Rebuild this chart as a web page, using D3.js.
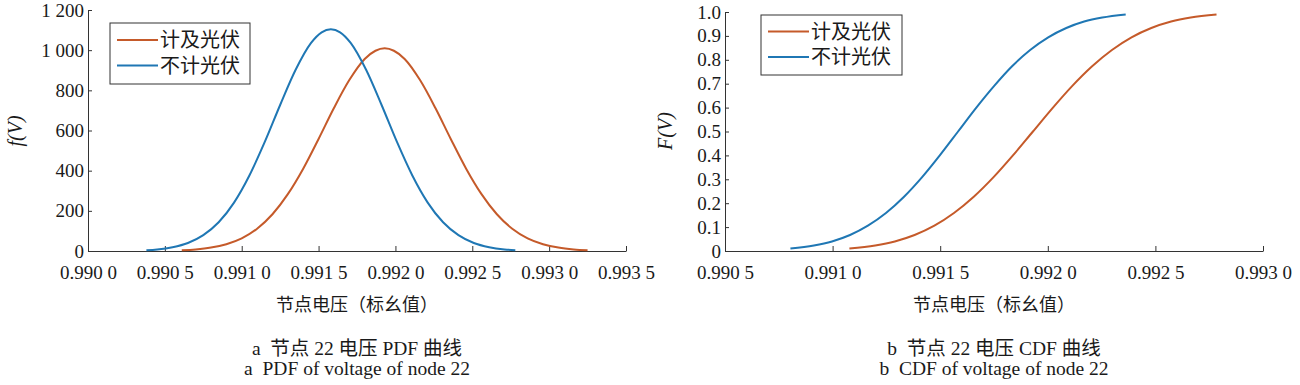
<!DOCTYPE html>
<html>
<head>
<meta charset="utf-8">
<script src="https://cdn.jsdelivr.net/npm/d3@7"></script>
<style>
  body { margin: 0; background: #fff; }
  .axis path, .axis line { stroke: #333; stroke-width: 1px; }
  .curve { fill: none; stroke-width: 2px; }
</style>
</head>
<body>
<div id="chart"></div>
<script>
var FONT = '"Liberation Serif", "Times New Roman", Tinos, "DejaVu Serif", "Noto Sans CJK SC", serif';

// series names and colours
var seriesNames = ['计及光伏', '不计光伏'];
var seriesColors = ['#c55a2a', '#1f77b4'];

// PDF, with PV (orange)
var pdfVoltPV = [0.99061, 0.99070, 0.99080, 0.99090, 0.99100, 0.99110, 0.99120, 0.99130, 0.99140, 0.99150,
  0.99160, 0.99170, 0.99180, 0.99187, 0.99193, 0.99199, 0.99206, 0.99216, 0.99226, 0.99236,
  0.99246, 0.99256, 0.99266, 0.99276, 0.99286, 0.99296, 0.99306, 0.99316, 0.99325];
var pdfDensPV = [4, 8, 17, 34, 63, 111, 183, 283, 410, 558,
  712, 851, 956, 997, 1009, 997, 956, 851, 712, 558,
  410, 283, 183, 111, 63, 34, 17, 8, 4];

// PDF, without PV (blue)
var pdfVoltNoPV = [0.99038, 0.99045, 0.99055, 0.99065, 0.99075, 0.99085, 0.99095, 0.99105, 0.99115, 0.99125,
  0.99135, 0.99145, 0.99152, 0.99158, 0.99164, 0.99171, 0.99181, 0.99191, 0.99201, 0.99211,
  0.99221, 0.99231, 0.99241, 0.99251, 0.99261, 0.99271, 0.99278];
var pdfDensNoPV = [4, 8, 19, 40, 79, 143, 241, 376, 543, 727,
  901, 1035, 1089, 1104, 1089, 1035, 901, 727, 543, 376,
  241, 143, 79, 40, 19, 8, 4];

// CDF, with PV (orange)
var cdfVoltPV = [0.991078, 0.991198, 0.991289, 0.991381, 0.991473, 0.991564, 0.991656, 0.991748, 0.991839, 0.991931,
  0.992023, 0.992114, 0.992206, 0.992298, 0.992389, 0.992481, 0.992573, 0.992664, 0.992784];
var cdfProbPV = [0.010, 0.023, 0.040, 0.067, 0.106, 0.159, 0.227, 0.309, 0.401, 0.500,
  0.599, 0.691, 0.773, 0.841, 0.894, 0.933, 0.960, 0.977, 0.990];

// CDF, without PV (blue)
var cdfVoltNoPV = [0.990804, 0.990913, 0.990997, 0.991081, 0.991164, 0.991248, 0.991332, 0.991416, 0.991499, 0.991583,
  0.991667, 0.991751, 0.991834, 0.991918, 0.992002, 0.992086, 0.992169, 0.992253, 0.992362];
var cdfProbNoPV = [0.010, 0.023, 0.040, 0.067, 0.106, 0.159, 0.227, 0.309, 0.401, 0.500,
  0.599, 0.691, 0.773, 0.841, 0.894, 0.933, 0.960, 0.977, 0.990];

// ticks
var pdfXTicks = [0.9900, 0.9905, 0.9910, 0.9915, 0.9920, 0.9925, 0.9930, 0.9935];
var pdfYTicks = [0, 200, 400, 600, 800, 1000, 1200];
var cdfXTicks = [0.9905, 0.9910, 0.9915, 0.9920, 0.9925, 0.9930];
var cdfYTicks = [0, 0.1, 0.2, 0.3, 0.4, 0.5, 0.6, 0.7, 0.8, 0.9, 1.0];

var svg = d3.select('#chart').append('svg')
  .attr('width', 1300)
  .attr('height', 385);

function fmtVolt(d) {
  var s = d.toFixed(4);
  return s.slice(0, 5) + ' ' + s.slice(5);
}

function zip(xs, ys) {
  return xs.map(function (x, i) { return { x: x, y: ys[i] }; });
}

function drawPanel(p) {
  var x = d3.scaleLinear().domain(p.xDomain).range(p.xRange);
  var y = d3.scaleLinear().domain(p.yDomain).range(p.yRange);
  var g = svg.append('g');

  var xAxis = g.append('g')
    .attr('class', 'axis')
    .attr('transform', 'translate(0,' + p.yRange[0] + ')')
    .call(d3.axisBottom(x).tickValues(p.xTicks).tickFormat(fmtVolt)
      .tickSizeInner(-5).tickSizeOuter(0).tickPadding(15));

  var yAxis = g.append('g')
    .attr('class', 'axis')
    .attr('transform', 'translate(' + p.xRange[0] + ',0)')
    .call(d3.axisLeft(y).tickValues(p.yTicks).tickFormat(p.yFormat)
      .tickSizeInner(-4).tickSizeOuter(0).tickPadding(4));

  [xAxis, yAxis].forEach(function (a) {
    a.attr('font-size', 19).attr('font-family', FONT);
    a.selectAll('text').attr('fill', '#1a1a1a');
  });

  var line = d3.line()
    .curve(d3.curveMonotoneX)
    .x(function (d) { return x(d.x); })
    .y(function (d) { return y(d.y); });

  p.series.forEach(function (s, i) {
    g.append('path')
      .attr('class', 'curve')
      .attr('d', line(s))
      .attr('stroke', seriesColors[i]);
  });

  var cx = (p.xRange[0] + p.xRange[1]) / 2;

  // y label
  g.append('text')
    .attr('transform', 'translate(' + p.yLabelX + ',' + 131 + ') rotate(-90)')
    .attr('text-anchor', 'middle')
    .attr('dy', '0.35em')
    .attr('font-size', 20)
    .attr('font-style', 'italic')
    .text(p.yLabel);

  // x label and captions
  g.append('text')
    .attr('x', cx).attr('y', 311)
    .attr('text-anchor', 'middle')
    .attr('font-size', 18)
    .text('节点电压（标幺值）');
  g.append('text')
    .attr('x', cx).attr('y', 355)
    .attr('text-anchor', 'middle')
    .attr('font-size', 19.5)
    .attr('xml:space', 'preserve')
    .text(p.caption1);
  g.append('text')
    .attr('x', cx).attr('y', 375)
    .attr('text-anchor', 'middle')
    .attr('font-size', 19.5)
    .attr('xml:space', 'preserve')
    .text(p.caption2);

  // legend
  var lg = g.append('g').attr('transform', 'translate(' + p.legend[0] + ',' + p.legend[1] + ')');
  lg.append('rect')
    .attr('width', p.legend[2]).attr('height', p.legend[3])
    .attr('fill', '#fff').attr('stroke', '#333').attr('stroke-width', 1);
  seriesNames.forEach(function (name, i) {
    var yy = p.legend[4] + i * p.legend[5];
    lg.append('line')
      .attr('x1', 7).attr('x2', 48).attr('y1', yy).attr('y2', yy)
      .attr('stroke', seriesColors[i]).attr('stroke-width', 2);
    lg.append('text')
      .attr('x', 50).attr('y', yy).attr('dy', '0.36em')
      .attr('font-size', 20)
      .text(name);
  });
}

drawPanel({
  xDomain: [0.9900, 0.9935], xRange: [88, 626],
  yDomain: [0, 1200], yRange: [251, 10],
  xTicks: pdfXTicks, yTicks: pdfYTicks,
  yFormat: function (d) {
    return d >= 1000 ? Math.floor(d / 1000) + ' ' + String(d % 1000).padStart(3, '0') : String(d);
  },
  series: [zip(pdfVoltPV, pdfDensPV), zip(pdfVoltNoPV, pdfDensNoPV)],
  yLabel: 'f(V)', yLabelX: 15,
  caption1: 'a  节点 22 电压 PDF 曲线',
  caption2: 'a  PDF of voltage of node 22',
  legend: [110, 23, 140, 61, 17, 25.5]
});

drawPanel({
  xDomain: [0.9905, 0.9930], xRange: [725, 1263],
  yDomain: [0, 1], yRange: [251, 12],
  xTicks: cdfXTicks, yTicks: cdfYTicks,
  yFormat: function (d) { return d === 0 ? '0' : d.toFixed(1); },
  series: [zip(cdfVoltPV, cdfProbPV), zip(cdfVoltNoPV, cdfProbNoPV)],
  yLabel: 'F(V)', yLabelX: 665,
  caption1: 'b  节点 22 电压 CDF 曲线',
  caption2: 'b  CDF of voltage of node 22',
  legend: [761, 15, 141, 60, 16.5, 25.5]
});

svg.selectAll('text').attr('font-family', FONT).attr('fill', '#1a1a1a');
</script>
</body>
</html>
